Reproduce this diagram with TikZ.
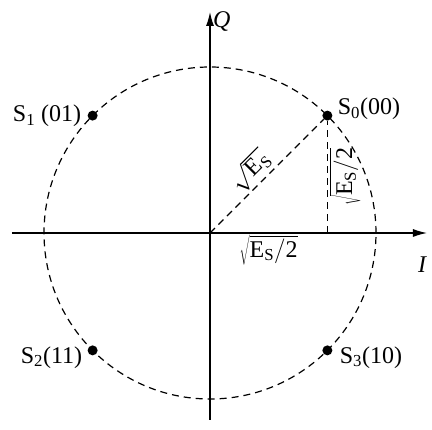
\documentclass[tikz,border=0pt]{standalone}
\usepackage{fontspec}
\setmainfont{Liberation Serif}
\setmathrm{Liberation Serif}
\usetikzlibrary{arrows.meta,positioning,calc}
\tikzset{
  eje/.style={-{Latex[length=14pt,width=8pt]}, line width=1.2pt},
  guia/.style={dash pattern=on 7pt off 5pt, line width=1.2pt},
  simbolo/.style={circle, fill=black, minimum size=10pt, inner sep=0pt},
  etiq/.style={font=\fontsize{24}{28}\selectfont, inner sep=2pt}
}

\begin{document}
\begin{tikzpicture}[x=1pt,y=1pt]
\useasboundingbox (-210,-197) rectangle (222,233);

\coordinate (o) at (0,0);
\coordinate (ejeIi) at (-198,0);
\coordinate (ejeIf) at (217,0);
\coordinate (ejeQi) at (0,-187);
\coordinate (ejeQf) at (0,221);

\draw[guia] (o) circle[radius=166];

\draw[eje] (ejeIi) -- (ejeIf);
\draw[eje] (ejeQi) -- (ejeQf);
\node[etiq, anchor=west] (labI) at (206,-32) {\textit{I}};
\node[etiq, anchor=west] (labQ) at (1,211) {\textit{Q}};

\node[simbolo] (s0) at (45:166) {};
\node[simbolo] (s1) at (135:166) {};
\node[simbolo] (s2) at (225:166) {};
\node[simbolo] (s3) at (315:166) {};

\node[etiq, right=3pt of s0, yshift=7pt] (e0) {S\textsubscript{0}(00)};
\node[etiq, left=4pt of s1] (e1) {S\textsubscript{1} (01)};
\node[etiq, left=3pt of s2, yshift=-7pt] (e2) {S\textsubscript{2}(11)};
\node[etiq, right=5pt of s3, yshift=-7pt] (e3) {S\textsubscript{3}(10)};

\coordinate (p0) at (s0 |- o);
\draw[guia] (o) -- (s0) node[etiq, pos=0.45, sloped, above] (rEs) {$\sqrt{\mathrm{E_S}}$};
\draw[guia] (p0) -- (s0) node[etiq, midway, sloped, below] (rEsv) {$\sqrt{\mathrm{E_S/2}}$};
\path (o) -- (p0) node[etiq, midway, below] (rEsh) {$\sqrt{\mathrm{E_S/2}}$};

\end{tikzpicture}
\end{document}
